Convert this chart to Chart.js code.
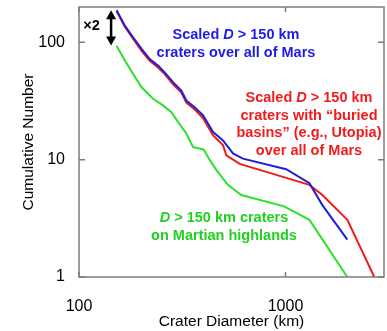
<!DOCTYPE html>
<html>
<head>
<meta charset="utf-8">
<script src="https://cdn.jsdelivr.net/npm/chart.js@4.4.1/dist/chart.umd.min.js"></script>
<style>
  html, body { margin: 0; padding: 0; background: #fff; }
</style>
</head>
<body>
<canvas id="chart" width="387" height="331"></canvas>
<script>
// Cumulative crater counts (D in km, N cumulative)
const blueD = [152, 167, 183, 201, 220, 242, 260, 286, 313, 331, 363, 399, 446, 498, 557, 622, 1008, 1306, 1509, 1993];
const blueN = [188, 138, 110, 88, 72, 63, 55.5, 45.6, 38.8, 31.9, 28, 23.8, 17.2, 14.6, 11.3, 10.2, 8.3, 6.3, 4.1, 2.08];

const redD = [152, 167, 183, 201, 220, 242, 260, 286, 313, 331, 363, 399, 446, 498, 517, 600, 1008, 1306, 1509, 1993, 2692];
const redN = [185, 135, 107, 84.7, 69.7, 60.8, 53.6, 43.6, 37.3, 30.7, 26.8, 22.5, 16.1, 13.3, 10.9, 9.2, 7.0, 6.1, 5.0, 3.07, 1.0];

const greenD = [152, 167, 183, 201, 228.5, 255, 280, 302, 331, 357, 402, 430, 463, 526, 611, 985, 1306, 1993];
const greenN = [93.4, 69.7, 53.8, 41.4, 33, 29, 25.4, 20.9, 16.7, 12.8, 12.2, 9.9, 8.15, 6.1, 5, 4, 3.07, 1];

// Tick labels shown on each axis
const xTickLabels = [100, 1000];
const yTickLabels = [1, 10, 100];

// Annotation text (segments flagged i:true are italic)
const blueNote = [
  [{t: 'Scaled '}, {t: 'D', i: true}, {t: ' > 150 km'}],
  [{t: 'craters over all of Mars'}]
];
const redNote = [
  [{t: 'Scaled '}, {t: 'D', i: true}, {t: ' > 150 km'}],
  [{t: 'craters with \u201cburied'}],
  [{t: 'basins\u201d (e.g., Utopia)'}],
  [{t: 'over all of Mars'}]
];
const greenNote = [
  [{t: 'D', i: true}, {t: ' > 150 km craters'}],
  [{t: 'on Martian highlands'}]
];

const FONT = '"Liberation Sans", Arial, Helvetica, sans-serif';
Chart.defaults.font.family = FONT;
Chart.defaults.color = '#000';

const toPoints = (xs, ys) => xs.map((d, i) => ({x: d, y: ys[i]}));

const isDecade = v => Math.abs(Math.log10(v) - Math.round(Math.log10(v))) < 1e-9;

// draw one centred line of mixed bold / bold-italic text
function drawNoteLine(ctx, parts, cx, cy, color) {
  const fonts = parts.map(p => (p.i ? 'italic ' : '') + 'bold 14.5px ' + FONT);
  let total = 0;
  const widths = parts.map((p, k) => {
    ctx.font = fonts[k];
    const w = ctx.measureText(p.t).width;
    total += w;
    return w;
  });
  let px = cx - total / 2;
  ctx.fillStyle = color;
  ctx.textAlign = 'left';
  ctx.textBaseline = 'middle';
  parts.forEach((p, k) => {
    ctx.font = fonts[k];
    ctx.fillText(p.t, px, cy);
    px += widths[k];
  });
}

function drawNote(ctx, lines, cx, cy, step, color) {
  lines.forEach((parts, k) => drawNoteLine(ctx, parts, cx, cy + k * step, color));
}

const frameAndNotes = {
  id: 'frameAndNotes',
  afterDraw(chart) {
    const {ctx, chartArea: a, scales: {x, y}} = chart;
    ctx.save();

    // box with inward ticks on all four sides
    ctx.strokeStyle = '#7c7c7c';
    ctx.lineWidth = 1.5;
    ctx.strokeRect(a.left, a.top, a.right - a.left, a.bottom - a.top);
    ctx.beginPath();
    y.ticks.forEach(t => {
      const py = y.getPixelForValue(t.value);
      if (py < a.top - 0.5 || py > a.bottom + 0.5) return;
      const len = isDecade(t.value) ? 6 : 3;
      ctx.moveTo(a.left, py); ctx.lineTo(a.left + len, py);
      ctx.moveTo(a.right, py); ctx.lineTo(a.right - len, py);
    });
    x.ticks.forEach(t => {
      const px = x.getPixelForValue(t.value);
      if (px < a.left - 0.5 || px > a.right + 0.5) return;
      const len = isDecade(t.value) ? 5 : 3;
      ctx.moveTo(px, a.bottom); ctx.lineTo(px, a.bottom - len);
      ctx.moveTo(px, a.top); ctx.lineTo(px, a.top + len);
    });
    ctx.stroke();

    // x2 arrow between the two curves at the start
    const ax = x.getPixelForValue(143);
    const ay1 = y.getPixelForValue(188);
    const ay2 = y.getPixelForValue(94);
    ctx.strokeStyle = '#000';
    ctx.fillStyle = '#000';
    ctx.lineWidth = 2.5;
    ctx.beginPath();
    ctx.moveTo(ax, ay1 + 5);
    ctx.lineTo(ax, ay2 - 5);
    ctx.stroke();
    ctx.beginPath();
    ctx.moveTo(ax, ay1); ctx.lineTo(ax - 5, ay1 + 9); ctx.lineTo(ax + 5, ay1 + 9); ctx.closePath();
    ctx.moveTo(ax, ay2); ctx.lineTo(ax - 5, ay2 - 9); ctx.lineTo(ax + 5, ay2 - 9); ctx.closePath();
    ctx.fill();
    ctx.font = 'bold 14.5px ' + FONT;
    ctx.textAlign = 'center';
    ctx.textBaseline = 'middle';
    ctx.fillText('\u00d72', 91.5, 26);

    // curve labels
    drawNote(ctx, blueNote, 236, 35, 17.5, '#1c1ce6');
    drawNote(ctx, redNote, 309, 98, 17.7, '#f21b1b');
    drawNote(ctx, greenNote, 224, 218, 18, '#22d022');

    ctx.restore();
  }
};

new Chart(document.getElementById('chart'), {
  type: 'line',
  data: {
    datasets: [
      {data: toPoints(blueD, blueN), borderColor: '#1f1fd6', borderWidth: 2},
      {data: toPoints(redD, redN), borderColor: '#f01a1a', borderWidth: 2},
      {data: toPoints(greenD, greenN), borderColor: '#2ee02e', borderWidth: 2}
    ]
  },
  options: {
    responsive: false,
    animation: false,
    layout: {autoPadding: false, padding: {top: 7, right: 3, left: 0, bottom: 0}},
    elements: {point: {radius: 0}, line: {tension: 0}},
    plugins: {legend: {display: false}, tooltip: {enabled: false}},
    scales: {
      x: {
        type: 'logarithmic',
        min: 100,
        max: 3000,
        grid: {display: false},
        border: {display: false},
        ticks: {
          padding: 12,
          autoSkip: false,
          maxRotation: 0,
          font: {size: 16},
          callback: v => xTickLabels.includes(v) ? String(v) : null
        },
        title: {display: true, text: 'Crater Diameter (km)', font: {size: 15.5}, padding: {top: 0, bottom: 0}},
        afterFit: s => { s.height = 54; s.paddingLeft = 0; s.paddingRight = 0; }
      },
      y: {
        type: 'logarithmic',
        min: 1,
        max: 200,
        grid: {display: false},
        border: {display: false},
        ticks: {
          padding: 6,
          autoSkip: false,
          font: {size: 16},
          callback: v => yTickLabels.includes(v) ? String(v) : null
        },
        title: {display: true, text: 'Cumulative Number', font: {size: 15.5}, padding: {top: 19, bottom: 0}},
        // keep the tick labels from pushing the plot area around
        afterFit: s => { s.width = 79; s.paddingTop = 0; s.paddingBottom = 0; }
      }
    }
  },
  plugins: [frameAndNotes]
});
</script>
</body>
</html>
